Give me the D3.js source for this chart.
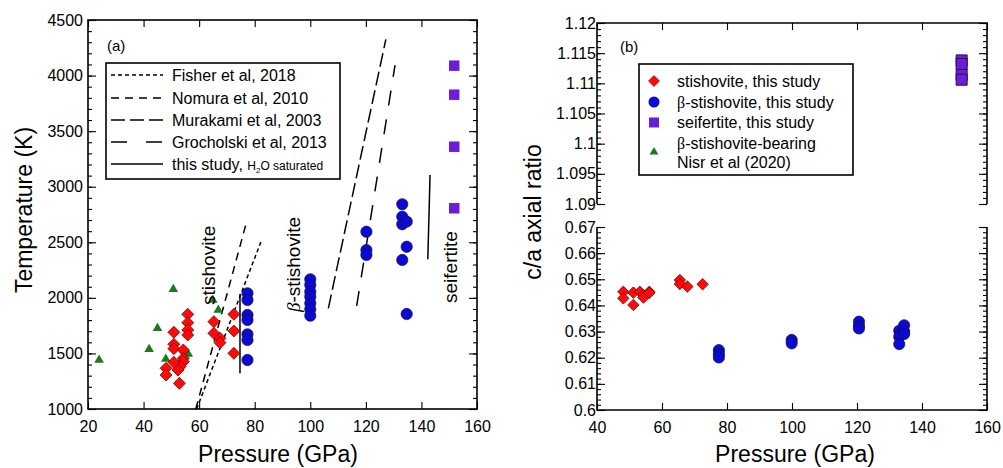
<!DOCTYPE html>
<html>
<head>
<meta charset="utf-8">
<script src="https://cdn.jsdelivr.net/npm/d3@7"></script>
<style>
body{margin:0;background:#fff;}
svg{display:block;font-family:"Liberation Sans",Arial,Helvetica,sans-serif;}
</style>
</head>
<body>
<svg id="chart" width="1003" height="468"></svg>
<script>
// ---- data ----
// panel (a): pressure (GPa), temperature (K)
var stishA = [[55.9,1852],[55.9,1777],[55.9,1711],[55.9,1666],[50.9,1690],[50.9,1582],[50.9,1543],
  [54.3,1531],[54.3,1456],[54.3,1426],[53.1,1381],[52.4,1351],[50.9,1420],[48.1,1366],[48.1,1306],
  [52.9,1231],[65.3,1786],[65.3,1681],[67.5,1636],[67.5,1597],[72.5,1852],[72.5,1702],[72.5,1501]];
var betaA = [[77.4,2041],[77.4,1981],[77.4,1846],[77.4,1801],[77.4,1672],[77.4,1621],[77.4,1441],
  [100,2167],[100,2116],[100,2056],[100,2011],[100,1951],[100,1897],[100,1840],
  [120.2,2595],[120.2,2430],[120.2,2386],
  [133.1,2842],[133.1,2730],[133.1,2662],[133.1,2341],[134.7,2686],[134.7,2460],[134.7,1855]];
var seifA = [[151.8,4089],[151.8,3828],[151.8,3360],[151.8,2806]];
var nisrA = [[24,1441],[42,1537],[45,1726],[48,1450],[50.7,2077],[56.1,1495],[64.9,1981],[66.9,1891]];

// phase boundary lines
var fisherLine = [[59.1,1000],[82.5,2521]];
var nomuraLine = [[58.8,1000],[77.1,2686]];
var murakamiLine = [[106.5,1906],[127.2,4326]];
var grocholskiLine = [[116.7,1927],[130.5,4095]];
var thisStudyLines = [[[74.7,2035],[74.7,1321]], [[143.1,3105],[142.3,2347]]];

// panel (b): pressure (GPa), c/a ratio
var stishB = [[48.1,0.6452],[48.1,0.6427],[51.2,0.6449],[51.2,0.6402],[53.2,0.6452],[54.3,0.6440],
  [54.3,0.6430],[56.1,0.6452],[56.1,0.6448],[65.5,0.6497],[65.5,0.6482],[67.8,0.6472],[72.5,0.6481]];
var betaB = [[77.5,0.6229],[77.5,0.6214],[77.5,0.6201],[99.9,0.6268],[99.9,0.6255],
  [120.6,0.6338],[120.6,0.6321],[120.6,0.6312],[133.0,0.6303],[133.0,0.6280],[133.0,0.6252],
  [134.5,0.6324],[134.5,0.6300],[134.5,0.6291]];
var seifB = [[152.2,1.1138],[152.2,1.1132],[152.2,1.1114],[152.2,1.1106]];

// tick values
var tempTicks = [1000,1500,2000,2500,3000,3500,4000,4500];
var pressTicksA = [20,40,60,80,100,120,140,160];
var pressTicksB = [40,60,80,100,120,140,160];
var ratioLowTicks = [0.6,0.61,0.62,0.63,0.64,0.65,0.66,0.67];
var ratioHighTicks = [1.09,1.095,1.1,1.105,1.11,1.115,1.12];

var legendA = ["Fisher et al, 2018","Nomura et al, 2010","Murakami et al, 2003","Grocholski et al, 2013","this study, "];
var legendB = ["stishovite, this study","-stishovite, this study","seifertite, this study","-stishovite-bearing","Nisr et al (2020)"];

var RED="#ff0a0a", BLUE="#0a0ad2", PURPLE="#6a1fd6", GREEN="#1c7a1c";

var svg = d3.select("#chart");

function drawFrame(g, x, y, xt, yt, yMinor, opts){
	var x0=x.range()[0], x1=x.range()[1], y0=y.range()[0], y1=y.range()[1];
	// left / right axes, ticks inward
	g.append("g").attr("transform","translate("+x0+",0)")
		.call(d3.axisLeft(y).tickValues(yMinor).tickSize(-4).tickFormat(""))
		.call(function(a){a.select(".domain").remove();});
	g.append("g").attr("transform","translate("+x1+",0)")
		.call(d3.axisRight(y).tickValues(yMinor).tickSize(-4).tickFormat(""))
		.call(function(a){a.select(".domain").remove();});
	g.append("g").attr("class","ylab").attr("transform","translate("+x0+",0)")
		.call(d3.axisLeft(y).tickValues(yt).tickSize(-8).tickPadding(opts.ypad).tickFormat(opts.yfmt))
		.call(function(a){a.select(".domain").remove();});
	g.append("g").attr("transform","translate("+x1+",0)")
		.call(d3.axisRight(y).tickValues(yt).tickSize(-8).tickFormat(""))
		.call(function(a){a.select(".domain").remove();});
	if(opts.bottom){
		g.append("g").attr("transform","translate(0,"+y0+")")
			.call(d3.axisBottom(x).tickValues(xt).tickSize(-7).tickPadding(12).tickFormat(d3.format("d")))
			.call(function(a){a.select(".domain").remove();});
	}
	if(opts.top){
		g.append("g").attr("transform","translate(0,"+y1+")")
			.call(d3.axisTop(x).tickValues(xt).tickSize(-7).tickFormat(""))
			.call(function(a){a.select(".domain").remove();});
	}
	// spines
	var path = d3.path();
	if(opts.top && opts.bottom){ g.append("rect").attr("x",x0).attr("y",y1).attr("width",x1-x0).attr("height",y0-y1).attr("fill","none").attr("stroke","#000").attr("stroke-width",1.6); }
	else if(opts.top){ path.moveTo(x0,y0); path.lineTo(x0,y1); path.lineTo(x1,y1); path.lineTo(x1,y0);
		g.append("path").attr("d",path.toString()).attr("fill","none").attr("stroke","#000").attr("stroke-width",1.6); }
	else { path.moveTo(x0,y1); path.lineTo(x0,y0); path.lineTo(x1,y0); path.lineTo(x1,y1);
		g.append("path").attr("d",path.toString()).attr("fill","none").attr("stroke","#000").attr("stroke-width",1.6); }
	g.selectAll(".tick line").attr("stroke","#000").attr("stroke-width",1.1);
	g.selectAll(".tick text").attr("font-size","16px").attr("fill","#000").style("font-family","'Liberation Sans',Arial,sans-serif");
}

function drawMarks(g, data, x, y, kind, size){
	var sel = g.append("g").selectAll("path").data(data).join("path");
	if(kind=="diamond"){
		sel.attr("d", d3.symbol().type(d3.symbolSquare).size(size)())
			.attr("transform", function(d){return "translate("+x(d[0])+","+y(d[1])+") rotate(45)";})
			.attr("fill",RED).attr("stroke","#6a0000").attr("stroke-width",0.7);
	}else if(kind=="circle"){
		sel.attr("d", d3.symbol().type(d3.symbolCircle).size(size)())
			.attr("transform", function(d){return "translate("+x(d[0])+","+y(d[1])+")";})
			.attr("fill",BLUE).attr("stroke","#10104a").attr("stroke-width",0.7);
	}else if(kind=="square"){
		sel.attr("d", d3.symbol().type(d3.symbolSquare).size(size)())
			.attr("transform", function(d){return "translate("+x(d[0])+","+y(d[1])+")";})
			.attr("fill",PURPLE).attr("stroke",size>110?"#2a0a55":"none").attr("stroke-width",1);
	}else{
		sel.attr("d", d3.symbol().type(d3.symbolTriangle).size(size)())
			.attr("transform", function(d){return "translate("+x(d[0])+","+y(d[1])+")";})
			.attr("fill",GREEN);
	}
}

// ================= panel (a) =================
var xA = d3.scaleLinear().domain([20,160]).range([88,477]);
var yA = d3.scaleLinear().domain([1000,4500]).range([409,20]);
var gA = svg.append("g");
drawFrame(gA, xA, yA, pressTicksA, tempTicks, d3.range(1000,4501,100),
	{bottom:true, top:true, ypad:5, yfmt:d3.format("d")});

var line = d3.line().x(function(d){return xA(d[0]);}).y(function(d){return yA(d[1]);});
var lineStyles = [
	{data:fisherLine, dash:"4,3"},
	{data:nomuraLine, dash:"8,6"},
	{data:murakamiLine, dash:"14,5"},
	{data:grocholskiLine, dash:"15,14"}
];
lineStyles.forEach(function(s){
	gA.append("path").attr("d",line(s.data)).attr("fill","none").attr("stroke","#000")
		.attr("stroke-width",1.5).attr("stroke-dasharray",s.dash);
});
thisStudyLines.forEach(function(l){
	gA.append("path").attr("d",line(l)).attr("fill","none").attr("stroke","#000").attr("stroke-width",1.5);
});

drawMarks(gA, nisrA, xA, yA, "triangle", 40);
drawMarks(gA, stishA, xA, yA, "diamond", 72);
drawMarks(gA, betaA, xA, yA, "circle", 100);
drawMarks(gA, seifA, xA, yA, "square", 110);

gA.append("text").attr("x",107).attr("y",51).attr("font-size","15px").text("(a)");

// phase labels
gA.append("text").attr("transform","translate(215,305) rotate(-90)").attr("font-size","19px").text("stishovite");
var bt = gA.append("text").attr("transform","translate(300,312) rotate(-90)").attr("font-size","19px");
bt.append("tspan").style("font-family","'Liberation Serif','Times New Roman',serif").attr("font-style","italic").text("\u03b2");
bt.append("tspan").text("-stishovite");
gA.append("text").attr("transform","translate(457,303) rotate(-90)").attr("font-size","19px").text("seifertite");

// legend (a)
var legA = gA.append("g");
legA.append("rect").attr("x",106).attr("y",63).attr("width",234).attr("height",116)
	.attr("fill","#fff").attr("stroke","#000").attr("stroke-width",1.6);
var legDash = ["4,3","8,6","14,5","16,19",null];
var legRowsA = [75,98,120,142,164];
legendA.forEach(function(t,i){
	var yy = legRowsA[i];
	legA.append("line").attr("x1",111).attr("x2",163).attr("y1",yy).attr("y2",yy)
		.attr("stroke","#000").attr("stroke-width",1.5).attr("stroke-dasharray",legDash[i]);
	var tx = legA.append("text").attr("x",172).attr("y",yy+5.5).attr("font-size","16px").text(t);
	if(i==4){
		tx.append("tspan").attr("font-size","12px").text("H");
		tx.append("tspan").attr("font-size","8px").attr("dy",3).text("2");
		tx.append("tspan").attr("font-size","12px").attr("dy",-3).text("O saturated");
	}
});

svg.append("text").attr("x",278).attr("y",462).attr("text-anchor","middle").attr("font-size","23px").text("Pressure (GPa)");
svg.append("text").attr("transform","translate(32,210) rotate(-90)").attr("text-anchor","middle").attr("font-size","23px").text("Temperature (K)");

// ================= panel (b) =================
var xB = d3.scaleLinear().domain([40,160]).range([597,987]);
var yHi = d3.scaleLinear().domain([1.09,1.12]).range([204,23]);
var yLo = d3.scaleLinear().domain([0.6,0.67]).range([410,227]);
var gB = svg.append("g");
var ratioFmt = function(d){return String(+d.toFixed(3));};
drawFrame(gB, xB, yHi, pressTicksB, ratioHighTicks, d3.range(1090,1121,1).map(function(v){return v/1000;}),
	{bottom:false, top:true, ypad:1, yfmt:ratioFmt});
drawFrame(gB, xB, yLo, pressTicksB, ratioLowTicks, d3.range(600,671,2).map(function(v){return v/1000;}),
	{bottom:true, top:false, ypad:1, yfmt:ratioFmt});

drawMarks(gB, stishB, xB, yLo, "diamond", 66);
drawMarks(gB, betaB, xB, yLo, "circle", 100);
drawMarks(gB, seifB, xB, yHi, "square", 121);

gB.append("text").attr("x",620).attr("y",52).attr("font-size","15px").text("(b)");

// legend (b)
var legB = gB.append("g");
legB.append("rect").attr("x",639).attr("y",64).attr("width",214).attr("height",111)
	.attr("fill","#fff").attr("stroke","#000").attr("stroke-width",1.6);
legB.append("path").attr("d",d3.symbol().type(d3.symbolSquare).size(60)())
	.attr("transform","translate(654,81) rotate(45)").attr("fill",RED).attr("stroke","#6a0000").attr("stroke-width",0.6);
legB.append("path").attr("d",d3.symbol().type(d3.symbolCircle).size(95)())
	.attr("transform","translate(654,102)").attr("fill",BLUE);
legB.append("path").attr("d",d3.symbol().type(d3.symbolSquare).size(100)())
	.attr("transform","translate(654,122.5)").attr("fill",PURPLE);
legB.append("path").attr("d",d3.symbol().type(d3.symbolTriangle).size(34)())
	.attr("transform","translate(654,152)").attr("fill",GREEN);
var legRowsB = [81,102,122.5,143.5,162.5];
legendB.forEach(function(t,i){
	var tx = legB.append("text").attr("x",677).attr("y",legRowsB[i]+5.5).attr("font-size","16px");
	if(i==1 || i==3){
		tx.append("tspan").style("font-family","'Liberation Serif','Times New Roman',serif").text("\u03b2");
	}
	tx.append("tspan").text(t);
});

svg.append("text").attr("x",795).attr("y",462).attr("text-anchor","middle").attr("font-size","23px").text("Pressure (GPa)");
svg.append("text").attr("transform","translate(541,212) rotate(-90)").attr("text-anchor","middle").attr("font-size","23px").text("c/a axial ratio");
</script>
</body>
</html>
